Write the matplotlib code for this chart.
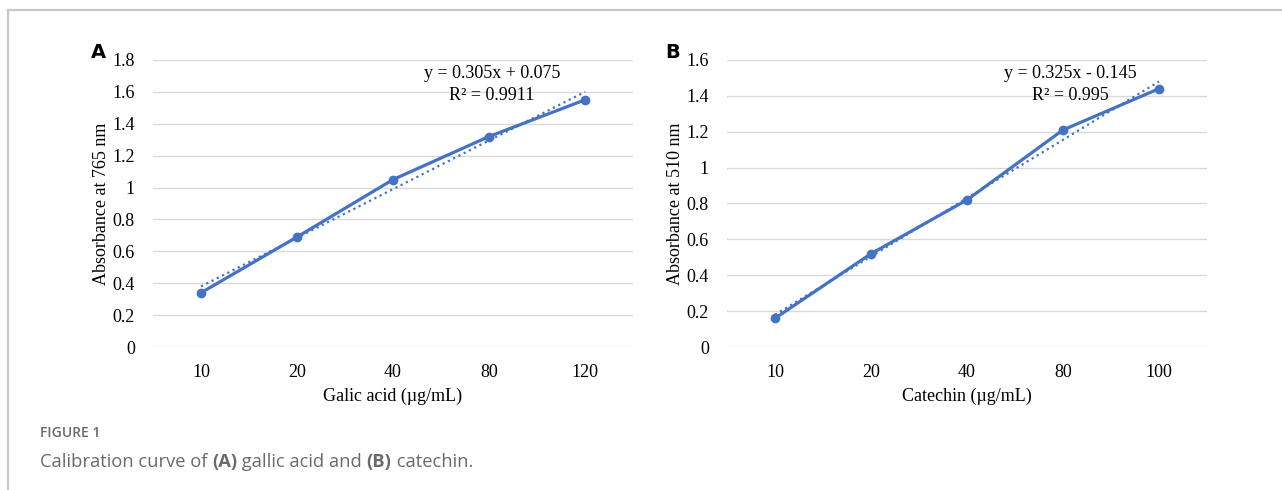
import numpy as np
import matplotlib
matplotlib.use("Agg")
import matplotlib.pyplot as plt
from matplotlib.lines import Line2D

# data
gallic_conc = ["10", "20", "40", "80", "120"]
gallic_abs = [0.34, 0.69, 1.05, 1.32, 1.55]
catechin_conc = ["10", "20", "40", "80", "100"]
catechin_abs = [0.16, 0.52, 0.82, 1.21, 1.44]

blue = "#4472C4"
grid_c = "#D9D9D9"
serif = ["Liberation Serif", "DejaVu Serif"]

fig = plt.figure(figsize=(12.82, 4.9), dpi=100)

# frame of the figure page (top and left rule)
fig.add_artist(Line2D([8 / 1282, 1], [1 - 10 / 490] * 2, color="#C8C8C8", lw=1.6))
fig.add_artist(Line2D([8 / 1282] * 2, [0, 1 - 10 / 490], color="#C8C8C8", lw=1.6))


def panel(left, labels, values, ymax, ylabel, xlabel, letter, eq_x, eq_txt, r2_txt):
    ax = fig.add_axes([left, 1 - 347 / 490, 480 / 1282, 287 / 490])
    x = np.arange(1, len(values) + 1)
    ax.plot(x, values, "-o", color=blue, lw=2.3, ms=6, zorder=3)
    k, b = np.polyfit(x, values, 1)
    ax.plot(x, k * x + b, ":", color=blue, lw=1.6, zorder=2)

    ax.set_xlim(0.5, len(values) + 0.5)
    ax.set_ylim(0, ymax)
    ticks = np.arange(0, ymax + 0.01, 0.2)
    ax.set_yticks(ticks)
    ax.set_yticklabels(["0" if v == 0 else ("1" if abs(v - 1) < 1e-9 else f"{v:.1f}")
                        for v in ticks])
    ax.set_xticks(x)
    ax.set_xticklabels(labels)
    ax.grid(axis="y", color=grid_c, lw=1)
    ax.set_axisbelow(True)
    for s in ax.spines.values():
        s.set_visible(False)
    ax.tick_params(length=0, labelsize=13, pad=13)
    ax.tick_params(axis="x", pad=12)
    for t in ax.get_xticklabels() + ax.get_yticklabels():
        t.set_family(serif)
    ax.set_ylabel(ylabel, family=serif, fontsize=13, labelpad=2)
    ax.set_xlabel(xlabel, family=serif, fontsize=13, labelpad=5)

    fig.text(left - 62 / 1282, 1 - 53 / 490, letter, fontsize=14, fontweight="bold",
             family="DejaVu Sans", ha="left", va="center")
    fig.text(eq_x / 1282, 1 - 74 / 490, eq_txt, family=serif, fontsize=13,
             ha="center", va="center")
    fig.text(eq_x / 1282, 1 - 95 / 490, r2_txt, family=serif, fontsize=13,
             ha="center", va="center")
    return ax


panel(153 / 1282, gallic_conc, gallic_abs, 1.8, "Absorbance at 765 nm",
      "Galic acid (µg/mL)", "A", 492, "y = 0.305x + 0.075", "R² = 0.9911")
panel(727 / 1282, catechin_conc, catechin_abs, 1.6, "Absorbance at 510 nm",
      "Catechin (µg/mL)", "B", 1070, "y = 0.325x - 0.145", "R² = 0.995")

# caption
cap = "#6A6A6A"
fig.text(40 / 1282, 1 - 433 / 490, "FIGURE 1", family="Open Sans", fontsize=10,
         fontweight="semibold", color=cap, va="center")
parts = [("Calibration curve of ", "normal"), ("(A)", "bold"), (" gallic acid and ", "normal"),
         ("(B)", "bold"), (" catechin.", "normal")]
r = fig.canvas.get_renderer()
xpos = 40 / 1282
for txt, w in parts:
    t = fig.text(xpos, 1 - 462 / 490, txt, family="Open Sans", fontsize=13.2,
                 fontweight=w, color=cap, va="center")
    bb = t.get_window_extent(renderer=r)
    xpos += bb.width / fig.bbox.width

fig.savefig("out.png", dpi=100)
